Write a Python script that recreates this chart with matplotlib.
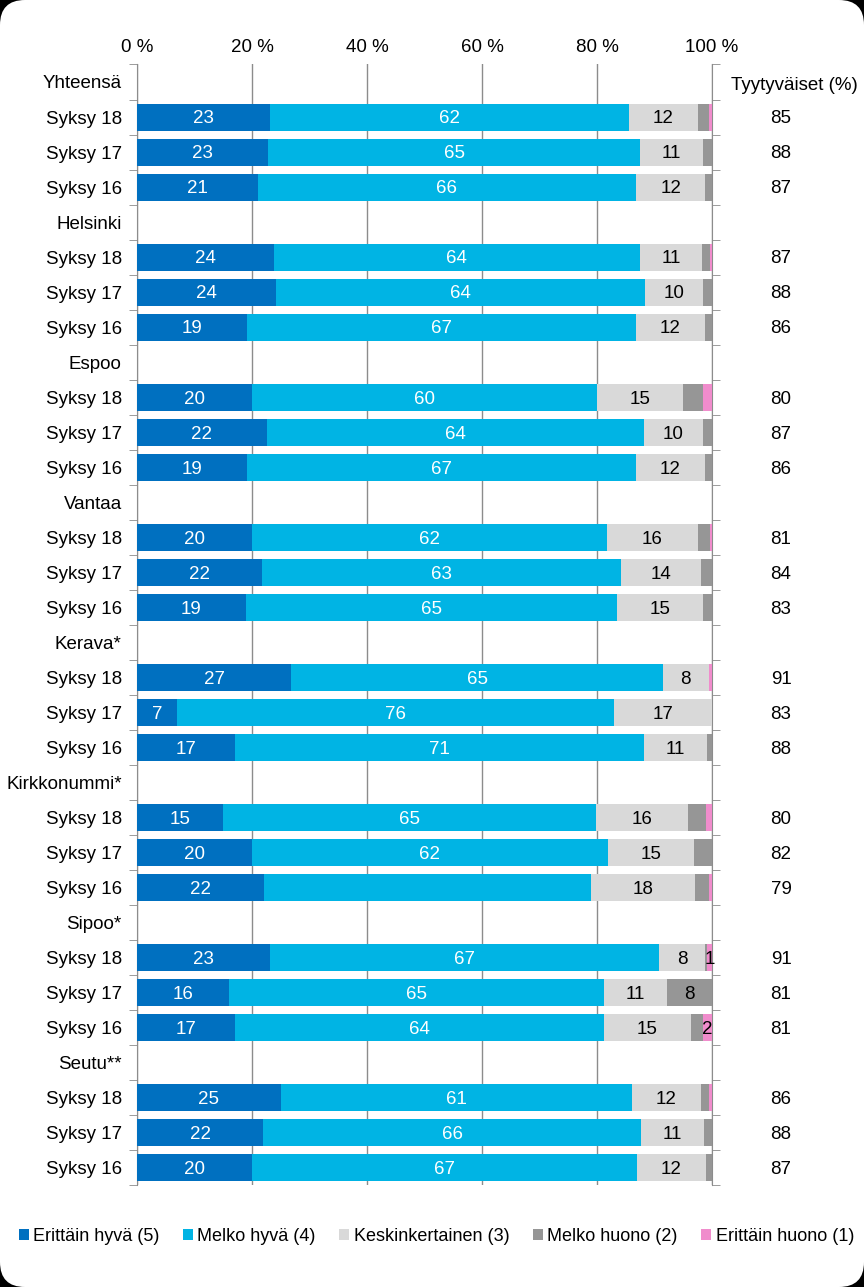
import numpy as np
import matplotlib.pyplot as plt
from matplotlib.patches import FancyBboxPatch

plt.rcParams['font.family'] = ['Liberation Sans', 'DejaVu Sans']

groups = ["Yhteensä", "Helsinki", "Espoo", "Vantaa", "Kerava*", "Kirkkonummi*", "Sipoo*", "Seutu**"]
periods = ["Syksy 18", "Syksy 17", "Syksy 16"]

# one value per bar, groups in order, Syksy 18 / 17 / 16 inside each group
erittain_hyva = [23, 23, 21, 24, 24, 19, 20, 22, 19, 20, 22, 19,
                 27, 7, 17, 15, 20, 22, 23, 16, 17, 25, 22, 20]
melko_hyva = [62, 65, 66, 64, 64, 67, 60, 64, 67, 62, 63, 65,
              65, 76, 71, 65, 62, 57, 67, 65, 64, 61, 66, 67]
keskinkertainen = [12, 11, 12, 11, 10, 12, 15, 10, 12, 16, 14, 15,
                   8, 17, 11, 16, 15, 18, 8, 11, 15, 12, 11, 12]
melko_huono = [1.9, 1.6, 1.2, 1.3, 1.6, 1.2, 3.5, 1.6, 1.2, 2.0, 1.9, 1.6,
               0, 0, 0.9, 3.2, 3.1, 2.4, 0.4, 7.8, 2.1, 1.4, 1.4, 1.1]
erittain_huono = [0.5, 0, 0, 0.4, 0, 0, 1.5, 0, 0, 0.4, 0, 0,
                  0.6, 0, 0, 1.0, 0, 0.6, 0.8, 0, 1.6, 0.5, 0, 0]
tyytyvaiset = [85, 88, 87, 87, 88, 86, 80, 87, 86, 81, 84, 83,
               91, 83, 88, 80, 82, 79, 91, 81, 81, 86, 88, 87]

series_names = ["Erittäin hyvä (5)", "Melko hyvä (4)", "Keskinkertainen (3)",
                "Melko huono (2)", "Erittäin huono (1)"]
colors = ["#0070C0", "#00B4E4", "#D9D9D9", "#969696", "#F08CCC"]
text_colors = ["white", "white", "black", "black", "black"]

# which segments carry a value label: (bar index, series index)
shown = {(i, s) for i in range(24) for s in range(3)} - {(17, 1)}
shown |= {(18, 4), (19, 3), (20, 4)}

data = np.array([erittain_hyva, melko_hyva, keskinkertainen, melko_huono, erittain_huono], dtype=float)
pct = data / data.sum(axis=0) * 100

# row positions: a header row per group, then its three bars
ylabels, ypos = [], []
row = 0
header_rows = []
for g in groups:
    header_rows.append(row)
    ylabels.append(g)
    row += 1
    for p in periods:
        ylabels.append(p)
        ypos.append(row)
        row += 1
ypos = np.array(ypos)
nrows = row

fs = 13.5

fig = plt.figure(figsize=(8.64, 12.87), dpi=100, facecolor='black')
bg = FancyBboxPatch((0, 0), 8.64, 12.87, boxstyle="round,pad=0,rounding_size=0.25",
                    transform=fig.dpi_scale_trans, facecolor='white', edgecolor='none', zorder=-10)
fig.patches.append(bg)

ax = fig.add_axes([0.1586, 0.0789, 0.6655, 0.871])
ax.set_facecolor('none')

left = np.zeros(24)
for s in range(5):
    ax.barh(ypos, pct[s], left=left, height=0.77, color=colors[s], label=series_names[s], zorder=3)
    for i in range(24):
        if (i, s) in shown:
            ax.text(left[i] + pct[s][i] / 2, ypos[i] + 0.05, str(int(round(data[s][i]))),
                    ha='center', va='center', color=text_colors[s], fontsize=fs, zorder=4)
    left += pct[s]

ax.set_xlim(0, 100)
ax.set_ylim(nrows - 0.5, -0.5)
ax.xaxis.tick_top()
ax.set_xticks(np.arange(0, 101, 20))
ax.set_xticklabels([f"{v} %" for v in range(0, 101, 20)], fontsize=fs)
ax.tick_params(axis='x', length=0, pad=6)
ax.grid(axis='x', color='#8C8C8C', linewidth=1, zorder=0)

ax.set_yticks(range(nrows))
ax.set_yticklabels(ylabels, fontsize=fs)
ax.set_yticks(np.arange(-0.5, nrows, 1), minor=True)
ax.tick_params(axis='y', which='major', length=0, pad=11)
ax.tick_params(axis='y', which='minor', length=6, color='#8C8C8C', left=True, right=True, direction='out')

for sp in ['top', 'bottom']:
    ax.spines[sp].set_visible(False)
for sp in ['left', 'right']:
    ax.spines[sp].set_color('#8C8C8C')

ax.text(1.144, header_rows[0] + 0.1, "Tyytyväiset (%)", transform=ax.get_yaxis_transform(),
        ha='center', va='center', fontsize=fs)
for i in range(24):
    ax.text(1.12, ypos[i] + 0.05, str(tyytyvaiset[i]), transform=ax.get_yaxis_transform(),
            ha='center', va='center', fontsize=fs)

fig.legend(loc='center', bbox_to_anchor=(0.505, 0.039), ncol=5, frameon=False, fontsize=13,
           handlelength=0.55, handleheight=0.55, handletextpad=0.25, columnspacing=1.3)

fig.savefig("out.png", dpi=100, facecolor='black')
